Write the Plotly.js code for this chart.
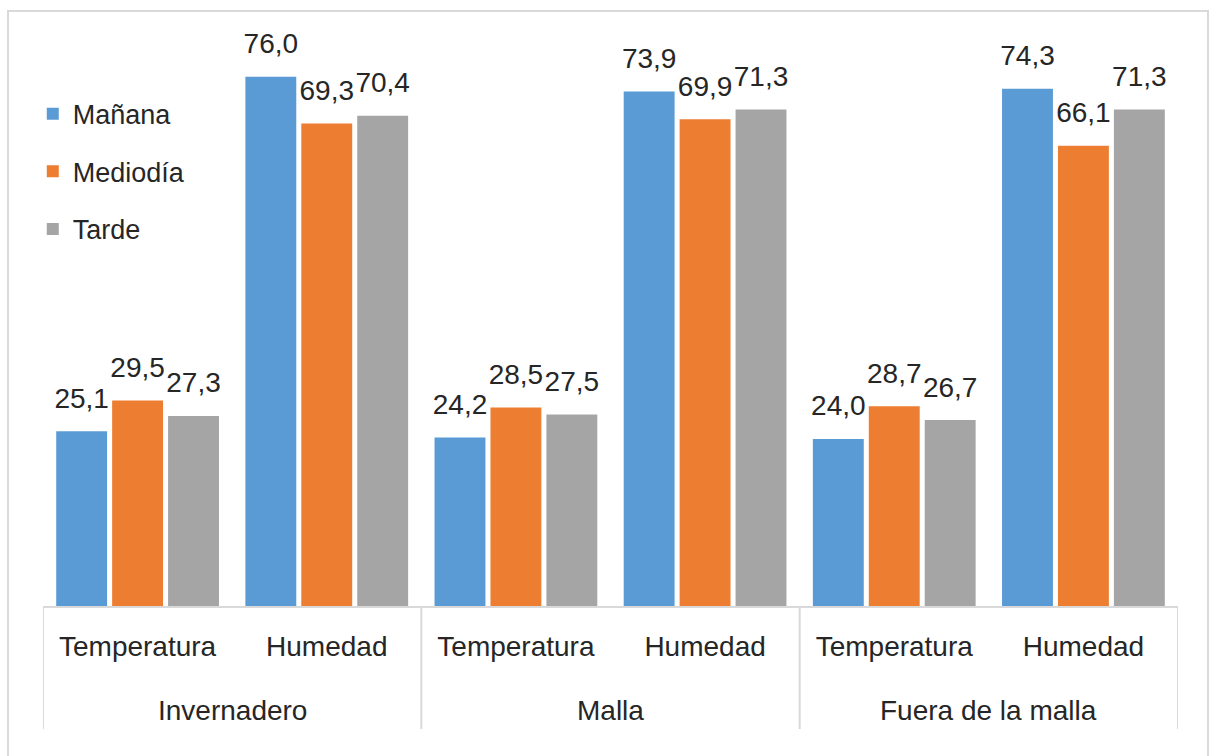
<!DOCTYPE html>
<html>
<head>
<meta charset="utf-8">
<script src="https://cdn.plot.ly/plotly-3.0.1.min.js"></script>
<style>
  html, body { margin: 0; padding: 0; background: #ffffff; }
  #frame { position: absolute; left: 7px; top: 10px; width: 1202px; height: 760px; border: 2px solid #d9d9d9; box-sizing: border-box; }
  #chart { position: absolute; left: 0; top: 0; width: 1209px; height: 756px; }
</style>
</head>
<body>
<div id="frame"></div>
<div id="chart"></div>
<script>
// Data
const groups = ["Invernadero", "Invernadero", "Malla", "Malla", "Fuera de la malla", "Fuera de la malla"];
const variables = ["Temperatura", "Humedad", "Temperatura", "Humedad", "Temperatura", "Humedad"];
const seriesNames = ["Mañana", "Mediodía", "Tarde"];
const manana = [25.1, 76.0, 24.2, 73.9, 24.0, 74.3];
const mediodia = [29.5, 69.3, 28.5, 69.9, 28.7, 66.1];
const tarde = [27.3, 70.4, 27.5, 71.3, 26.7, 71.3];
const colors = ["#5B9BD5", "#ED7D31", "#A5A5A5"];

const seriesValues = [manana, mediodia, tarde];
const font = "Liberation Sans, Arial, sans-serif";
const textColor = "#262626";
const lineColor = "#d9d9d9";

// category positions derived from the category list
const xpos = variables.map((_, i) => i);

// group spans derived from the group list
const groupNames = [];
const groupStart = {};
const groupEnd = {};
groups.forEach((g, i) => {
  if (!(g in groupStart)) { groupNames.push(g); groupStart[g] = i; }
  groupEnd[g] = i;
});

const traces = seriesValues.map((vals, i) => ({
  type: "bar",
  name: seriesNames[i],
  legendgroup: "g" + i,
  x: xpos,
  y: vals,
  marker: { color: colors[i], line: { width: 0 } },
  texttemplate: "<span style='font-size:28px'>%{y:.1f}</span><br><span style='font-size:4px'>&nbsp;</span>",
  textposition: "outside",
  constraintext: "none",
  cliponaxis: false,
  textfont: { family: font, size: 15, color: textColor },
  hoverinfo: "y+name"
}));

const annotations = groupNames.map(g => ({
  x: (groupStart[g] + groupEnd[g]) / 2,
  xref: "x",
  y: 0,
  yref: "paper",
  yanchor: "middle",
  yshift: -104,
  text: g,
  showarrow: false,
  font: { family: font, size: 28, color: textColor }
}));

const boundaries = [-0.5].concat(groupNames.map(g => groupEnd[g] + 0.5));
const shapes = boundaries.map(b => ({
  type: "line",
  xref: "x",
  x0: b, x1: b,
  yref: "paper",
  ysizemode: "pixel",
  yanchor: 0,
  y0: 0,
  y1: -123,
  line: { color: lineColor, width: 2 }
}));

const layout = {
  width: 1209,
  height: 756,
  margin: { l: 43, r: 31, t: 49, b: 150 },
  paper_bgcolor: "rgba(0,0,0,0)",
  plot_bgcolor: "rgba(0,0,0,0)",
  separators: ",.",
  barmode: "group",
  bargap: 0.113,
  bargroupgap: 0.09,
  showlegend: true,
  legend: {
    x: -0.009,
    y: 0.927,
    xanchor: "left",
    yanchor: "top",
    bgcolor: "rgba(0,0,0,0)",
    font: { family: font, size: 27, color: textColor },
    tracegroupgap: 19.5,
    itemclick: false
  },
  xaxis: {
    range: [-0.5, variables.length - 0.5],
    tickmode: "array",
    tickvals: xpos,
    ticktext: variables,
    showline: true,
    linecolor: lineColor,
    linewidth: 2,
    ticks: "",
    ticklabelstandoff: 14,
    tickfont: { family: font, size: 28, color: textColor },
    showgrid: false,
    zeroline: false,
    fixedrange: true
  },
  yaxis: {
    range: [0, 80],
    visible: false,
    showgrid: false,
    zeroline: false
  },
  annotations: annotations,
  shapes: shapes,
  font: { family: font, color: textColor }
};

Plotly.newPlot("chart", traces, layout, { displayModeBar: false, staticPlot: true });
</script>
</body>
</html>
